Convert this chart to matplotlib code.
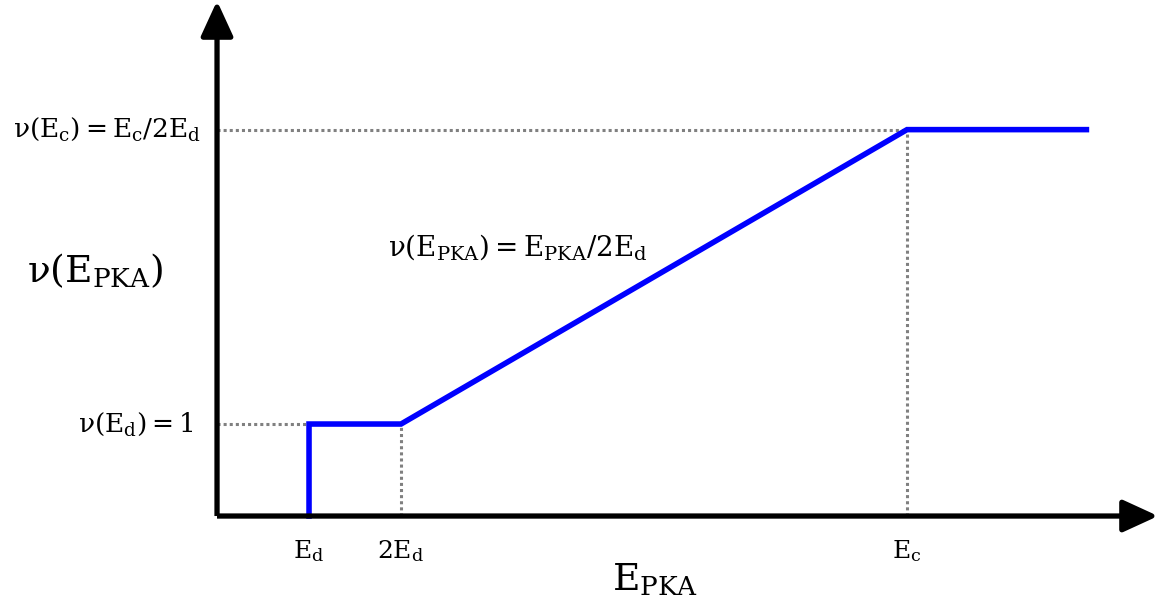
import matplotlib.pyplot as plt

plt.rcParams['mathtext.fontset'] = 'custom'
plt.rcParams['mathtext.rm'] = 'DejaVu Serif'
plt.rcParams['mathtext.it'] = 'DejaVu Serif:italic'
plt.rcParams['font.family'] = 'DejaVu Serif'

# schematic curve nu(E_PKA), in units of E_d
curve_x = [1, 1, 2, 7.5, 9.45]
curve_y = [0, 1, 1, 4.2, 4.2]
ed, two_ed, ec = 1, 2, 7.5
nu_ed, nu_ec = 1, 4.2

xtick_labels = [r'$\mathrm{E_d}$', r'$\mathrm{2E_d}$', r'$\mathrm{E_c}$']
lab_ec = r'$\mathrm{\nu(E_c) = E_c/2E_d}$'
lab_ed = r'$\mathrm{\nu(E_d) = 1}$'
lab_mid = r'$\mathrm{\nu(E_{PKA}) = E_{PKA}/2E_d}$'

fig = plt.figure(figsize=(11.59, 6.06), dpi=100)
ax = fig.add_axes([0, 0, 1, 1])
ax.set_xlim(-2.359, 10.239)
ax.set_ylim(-0.978, 5.609)
ax.axis('off')

dot = dict(color='#808080', ls=(0, (1, 1)), lw=2.2, zorder=1)
ax.plot([0, ed], [nu_ed, nu_ed], **dot)
ax.plot([0, ec], [nu_ec, nu_ec], **dot)
ax.plot([two_ed, two_ed], [0, nu_ed], **dot)
ax.plot([ec, ec], [0, nu_ec], **dot)

ax.plot(curve_x, curve_y, color='#0000ff', lw=4, solid_joinstyle='miter', zorder=2)

# axes with arrows
arw = dict(arrowstyle='-|>,head_length=1.2,head_width=0.55', color='black', lw=3.8,
           mutation_scale=18, shrinkA=0, shrinkB=0, capstyle='butt')
ax.annotate('', xy=(10.23, 0), xytext=(0, 0), arrowprops=arw, zorder=3)
ax.annotate('', xy=(0, 5.6), xytext=(0, 0), arrowprops=arw, zorder=3)

for xv, lab in zip([ed, two_ed, ec], xtick_labels):
    ax.text(xv, -0.38, lab, ha='center', va='center', fontsize=18)

ax.text(4.76, -0.7, r'$\mathrm{E_{PKA}}$', ha='center', va='center', fontsize=27)
ax.text(-1.33, 2.66, r'$\mathrm{\nu(E_{PKA})}$', ha='center', va='center', fontsize=27)
ax.text(-0.17, nu_ec, lab_ec, ha='right', va='center', fontsize=19)
ax.text(-0.25, nu_ed, lab_ed, ha='right', va='center', fontsize=19)
ax.text(1.86, 2.92, lab_mid, ha='left', va='center', fontsize=20)

fig.savefig('out.png', dpi=100)
